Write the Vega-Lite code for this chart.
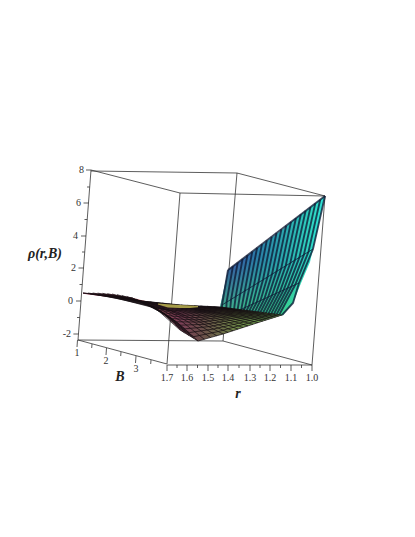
{"$schema":"https://vega.github.io/schema/vega-lite/v6.json","width":415,"height":537,"autosize":{"type":"fit","contains":"padding"},"padding":0,"background":"white","view":{"stroke":null},
"encoding":{"x":{"field":"x","type":"quantitative","scale":{"domain":[0,415],"nice":false,"zero":false},"axis":null},"y":{"field":"y","type":"quantitative","scale":{"domain":[537,0],"nice":false,"zero":false},"axis":null}},
"layer":[
{"data":{"values":[
{"x":91,"y":170,"x2":78,"y2":340},{"x":91,"y":171,"x2":237,"y2":173},{"x":91,"y":170,"x2":180,"y2":193},{"x":237,"y":173,"x2":325,"y2":196},{"x":180,"y":193,"x2":325,"y2":196},{"x":237,"y":173,"x2":223,"y2":341},{"x":180,"y":193,"x2":167,"y2":364},{"x":325,"y":196,"x2":312,"y2":365},{"x":78,"y":340,"x2":223,"y2":341},{"x":78,"y":340,"x2":167,"y2":364},{"x":223,"y":341,"x2":312,"y2":365},{"x":167,"y":365,"x2":312,"y2":365},
{"x":91,"y":170,"x2":86,"y2":170},{"x":88.5,"y":203,"x2":83.5,"y2":203},{"x":86,"y":236,"x2":81,"y2":236},{"x":83.5,"y":268,"x2":78.5,"y2":268},{"x":81,"y":301,"x2":76,"y2":301},{"x":78.4,"y":334,"x2":73.4,"y2":334},
{"x":89.7,"y":187,"x2":87,"y2":187},{"x":87.2,"y":219.5,"x2":84.5,"y2":219.5},{"x":84.7,"y":252,"x2":82,"y2":252},{"x":82.2,"y":284.5,"x2":79.5,"y2":284.5},{"x":79.7,"y":317.5,"x2":77,"y2":317.5},
{"x":77.5,"y":340,"x2":77,"y2":347},{"x":106.5,"y":348,"x2":106,"y2":355},{"x":136,"y":356,"x2":135.5,"y2":363},{"x":92,"y":344,"x2":91.7,"y2":348},{"x":121,"y":352,"x2":120.7,"y2":356},{"x":151,"y":360,"x2":150.7,"y2":364},
{"x":167,"y":365,"x2":167,"y2":371},{"x":187,"y":365,"x2":187,"y2":371},{"x":208,"y":365,"x2":208,"y2":371},{"x":228,"y":365,"x2":228,"y2":371},{"x":250,"y":365,"x2":250,"y2":371},{"x":270,"y":365,"x2":270,"y2":371},{"x":291,"y":365,"x2":291,"y2":371},{"x":312,"y":365,"x2":312,"y2":371},
{"x":177,"y":365,"x2":177,"y2":368},{"x":197.5,"y":365,"x2":197.5,"y2":368},{"x":218,"y":365,"x2":218,"y2":368},{"x":239,"y":365,"x2":239,"y2":368},{"x":260,"y":365,"x2":260,"y2":368},{"x":280.5,"y":365,"x2":280.5,"y2":368},{"x":301.5,"y":365,"x2":301.5,"y2":368}
]},"mark":{"type":"rule","color":"#2a2a2a","strokeWidth":0.9,"opacity":0.85},"encoding":{"x2":{"field":"x2"},"y2":{"field":"y2"}}},
{"data":{"values":[{"x":220,"y":307,"y2":322},{"x":228,"y":270,"y2":323},{"x":283,"y":229,"y2":315},{"x":293,"y":220.4,"y2":303},{"x":301,"y":214.3,"y2":283},{"x":310,"y":207.5,"y2":262},{"x":313,"y":205.2,"y2":249},{"x":317,"y":202,"y2":233},{"x":325,"y":196,"y2":196}]},
"mark":{"type":"area","orient":"vertical","color":{"gradient":"linear","x1":0,"y1":0,"x2":1,"y2":0.15,"stops":[{"offset":0,"color":"#2a2a80"},{"offset":0.22,"color":"#3550a8"},{"offset":0.42,"color":"#2a80a8"},{"offset":0.68,"color":"#2aaeb0"},{"offset":0.88,"color":"#2fd4c0"},{"offset":1,"color":"#30e8e0"}]}},"encoding":{"y2":{"field":"y2"}}},
{"data":{"values":[{"x":220,"y":307,"y2":322},{"x":228,"y":270,"y2":323},{"x":283,"y":229,"y2":315},{"x":293,"y":220.4,"y2":303},{"x":301,"y":214.3,"y2":283},{"x":310,"y":207.5,"y2":262},{"x":313,"y":205.2,"y2":249},{"x":317,"y":202,"y2":233},{"x":325,"y":196,"y2":196}]},
"mark":{"type":"area","orient":"vertical","color":{"gradient":"linear","x1":0.6,"y1":0,"x2":0.5,"y2":1,"stops":[{"offset":0,"color":"rgba(60,230,130,0)"},{"offset":0.5,"color":"rgba(60,230,130,0)"},{"offset":1,"color":"rgba(70,235,120,0.7)"}]}},"encoding":{"y2":{"field":"y2"}}},
{"data":{"values":[
{"curve":0,"seq":0,"x":228,"y":270},{"curve":0,"seq":1,"x":222,"y":305},{"curve":0,"seq":2,"x":222,"y":318},{"curve":0,"seq":3,"x":221,"y":322},
{"curve":1,"seq":0,"x":232.9,"y":266.3},{"curve":1,"seq":1,"x":226.6,"y":302.2},{"curve":1,"seq":2,"x":225.9,"y":316.3},{"curve":1,"seq":3,"x":224,"y":321.7},
{"curve":2,"seq":0,"x":237.7,"y":262.6},{"curve":2,"seq":1,"x":231.1,"y":299.4},{"curve":2,"seq":2,"x":229.7,"y":314.5},{"curve":2,"seq":3,"x":227,"y":321.3},
{"curve":3,"seq":0,"x":242.6,"y":258.9},{"curve":3,"seq":1,"x":235.7,"y":296.6},{"curve":3,"seq":2,"x":233.6,"y":312.8},{"curve":3,"seq":3,"x":230,"y":321},
{"curve":4,"seq":0,"x":247.4,"y":255.2},{"curve":4,"seq":1,"x":240.2,"y":293.8},{"curve":4,"seq":2,"x":237.4,"y":311},{"curve":4,"seq":3,"x":233,"y":320.6},
{"curve":5,"seq":0,"x":252.3,"y":251.5},{"curve":5,"seq":1,"x":244.8,"y":291},{"curve":5,"seq":2,"x":241.3,"y":309.3},{"curve":5,"seq":3,"x":236,"y":320.3},
{"curve":6,"seq":0,"x":257.1,"y":247.8},{"curve":6,"seq":1,"x":249.3,"y":288.2},{"curve":6,"seq":2,"x":245.1,"y":307.5},{"curve":6,"seq":3,"x":239,"y":319.9},
{"curve":7,"seq":0,"x":262,"y":244.1},{"curve":7,"seq":1,"x":253.9,"y":285.4},{"curve":7,"seq":2,"x":249,"y":305.8},{"curve":7,"seq":3,"x":242,"y":319.6},
{"curve":8,"seq":0,"x":266.8,"y":240.4},{"curve":8,"seq":1,"x":258.4,"y":282.6},{"curve":8,"seq":2,"x":252.8,"y":304},{"curve":8,"seq":3,"x":245,"y":319.2},
{"curve":9,"seq":0,"x":271.7,"y":236.7},{"curve":9,"seq":1,"x":263,"y":279.8},{"curve":9,"seq":2,"x":256.7,"y":302.3},{"curve":9,"seq":3,"x":248,"y":318.9},
{"curve":10,"seq":0,"x":276.5,"y":233},{"curve":10,"seq":1,"x":267.5,"y":277},{"curve":10,"seq":2,"x":260.5,"y":300.5},{"curve":10,"seq":3,"x":251.5,"y":318.5},
{"curve":11,"seq":0,"x":281.4,"y":229.3},{"curve":11,"seq":1,"x":272,"y":274.2},{"curve":11,"seq":2,"x":264.4,"y":298.8},{"curve":11,"seq":3,"x":254.6,"y":318.2},
{"curve":12,"seq":0,"x":286.2,"y":225.6},{"curve":12,"seq":1,"x":276.6,"y":271.4},{"curve":12,"seq":2,"x":268.2,"y":297},{"curve":12,"seq":3,"x":257.6,"y":317.8},
{"curve":13,"seq":0,"x":291,"y":221.9},{"curve":13,"seq":1,"x":281.2,"y":268.6},{"curve":13,"seq":2,"x":272,"y":295.3},{"curve":13,"seq":3,"x":260.6,"y":317.5},
{"curve":14,"seq":0,"x":295.9,"y":218.2},{"curve":14,"seq":1,"x":285.7,"y":265.8},{"curve":14,"seq":2,"x":275.9,"y":293.5},{"curve":14,"seq":3,"x":263.7,"y":317.1},
{"curve":15,"seq":0,"x":300.8,"y":214.5},{"curve":15,"seq":1,"x":290.3,"y":263},{"curve":15,"seq":2,"x":279.8,"y":291.8},{"curve":15,"seq":3,"x":266.8,"y":316.8},
{"curve":16,"seq":0,"x":305.6,"y":210.8},{"curve":16,"seq":1,"x":294.8,"y":260.2},{"curve":16,"seq":2,"x":283.6,"y":290},{"curve":16,"seq":3,"x":269.8,"y":316.4},
{"curve":17,"seq":0,"x":310.5,"y":207.1},{"curve":17,"seq":1,"x":299.4,"y":257.4},{"curve":17,"seq":2,"x":287.5,"y":288.3},{"curve":17,"seq":3,"x":272.9,"y":316},
{"curve":18,"seq":0,"x":315.3,"y":203.4},{"curve":18,"seq":1,"x":303.9,"y":254.6},{"curve":18,"seq":2,"x":291.3,"y":286.5},{"curve":18,"seq":3,"x":275.9,"y":315.7},
{"curve":19,"seq":0,"x":320.2,"y":199.7},{"curve":19,"seq":1,"x":308.5,"y":251.8},{"curve":19,"seq":2,"x":295.2,"y":284.8},{"curve":19,"seq":3,"x":279,"y":315.3},
{"curve":20,"seq":0,"x":325,"y":196},{"curve":20,"seq":1,"x":313,"y":249},{"curve":20,"seq":2,"x":299,"y":283},{"curve":20,"seq":3,"x":293,"y":303},{"curve":20,"seq":4,"x":282,"y":315},
{"curve":21,"seq":0,"x":228,"y":270},{"curve":21,"seq":1,"x":325,"y":196}
]},"mark":{"type":"line","color":"#0e1a34","strokeWidth":1.9,"opacity":0.78},"encoding":{"detail":{"field":"curve"},"order":{"field":"seq"}}},
{"data":{"values":[
{"curve":22,"seq":0,"x":222,"y":305},{"curve":22,"seq":1,"x":313,"y":249},
{"curve":23,"seq":0,"x":222,"y":318},{"curve":23,"seq":1,"x":299,"y":283}
]},"mark":{"type":"line","color":"#0e1a34","strokeWidth":1,"opacity":0.75},"encoding":{"detail":{"field":"curve"},"order":{"field":"seq"}}},
{"data":{"values":[{"x":83,"y":292.7,"y2":293.8},{"x":112,"y":294.3,"y2":297.4},{"x":131,"y":297.4,"y2":300.5},{"x":141,"y":300,"y2":302.5},{"x":153,"y":302.5,"y2":307},{"x":160,"y":303.5,"y2":311.9},{"x":170,"y":304.5,"y2":320},{"x":180,"y":305,"y2":330},{"x":198,"y":306,"y2":341},{"x":210,"y":306.5,"y2":337.6},{"x":223,"y":307.4,"y2":334},{"x":243,"y":309.9,"y2":327.5},{"x":263,"y":312.6,"y2":321},{"x":282,"y":315,"y2":315}]},
"mark":{"type":"area","orient":"vertical","color":{"gradient":"linear","x1":0,"y1":0,"x2":1,"y2":0,"stops":[{"offset":0,"color":"#a03a5c"},{"offset":0.3,"color":"#b05a5e"},{"offset":0.48,"color":"#7e3f58"},{"offset":0.6,"color":"#6a4f4a"},{"offset":0.78,"color":"#6e8a48"},{"offset":1,"color":"#6cae58"}]}},"encoding":{"y2":{"field":"y2"}}},
{"data":{"values":[
{"curve":0,"seq":0,"x":83,"y":293},{"curve":0,"seq":1,"x":112,"y":297},{"curve":0,"seq":2,"x":131,"y":300},{"curve":0,"seq":3,"x":181,"y":305},{"curve":0,"seq":4,"x":220,"y":307},
{"curve":1,"seq":0,"x":87.9,"y":293},{"curve":1,"seq":1,"x":116.3,"y":297.1},{"curve":1,"seq":2,"x":135.6,"y":300.4},{"curve":1,"seq":3,"x":185.1,"y":305.8},{"curve":1,"seq":4,"x":223.1,"y":307.4},
{"curve":2,"seq":0,"x":92.7,"y":293},{"curve":2,"seq":1,"x":120.6,"y":297.4},{"curve":2,"seq":2,"x":140.2,"y":301.1},{"curve":2,"seq":3,"x":189.2,"y":306.6},{"curve":2,"seq":4,"x":226.2,"y":307.8},
{"curve":3,"seq":0,"x":97.6,"y":293.1},{"curve":3,"seq":1,"x":124.9,"y":298},{"curve":3,"seq":2,"x":144.8,"y":302},{"curve":3,"seq":3,"x":193.3,"y":307.4},{"curve":3,"seq":4,"x":229.3,"y":308.2},
{"curve":4,"seq":0,"x":102.4,"y":293.3},{"curve":4,"seq":1,"x":129.2,"y":298.8},{"curve":4,"seq":2,"x":149.4,"y":303},{"curve":4,"seq":3,"x":197.4,"y":308.2},{"curve":4,"seq":4,"x":232.4,"y":308.6},
{"curve":5,"seq":0,"x":107.3,"y":293.6},{"curve":5,"seq":1,"x":133.5,"y":299.8},{"curve":5,"seq":2,"x":154,"y":304.3},{"curve":5,"seq":3,"x":201.5,"y":309},{"curve":5,"seq":4,"x":235.5,"y":309},
{"curve":6,"seq":0,"x":112.1,"y":294},{"curve":6,"seq":1,"x":137.8,"y":301},{"curve":6,"seq":2,"x":158.6,"y":305.6},{"curve":6,"seq":3,"x":205.6,"y":309.8},{"curve":6,"seq":4,"x":238.6,"y":309.4},
{"curve":7,"seq":0,"x":117,"y":294.6},{"curve":7,"seq":1,"x":142.1,"y":302.4},{"curve":7,"seq":2,"x":163.2,"y":307},{"curve":7,"seq":3,"x":209.7,"y":310.6},{"curve":7,"seq":4,"x":241.7,"y":309.8},
{"curve":8,"seq":0,"x":121.8,"y":295.4},{"curve":8,"seq":1,"x":146.4,"y":304},{"curve":8,"seq":2,"x":167.8,"y":308.6},{"curve":8,"seq":3,"x":213.8,"y":311.4},{"curve":8,"seq":4,"x":244.8,"y":310.2},
{"curve":9,"seq":0,"x":126.7,"y":296.4},{"curve":9,"seq":1,"x":150.7,"y":305.9},{"curve":9,"seq":2,"x":172.4,"y":310.3},{"curve":9,"seq":3,"x":217.9,"y":312.2},{"curve":9,"seq":4,"x":247.9,"y":310.6},
{"curve":10,"seq":0,"x":131.5,"y":297.6},{"curve":10,"seq":1,"x":155,"y":308},{"curve":10,"seq":2,"x":177,"y":312},{"curve":10,"seq":3,"x":222,"y":313},{"curve":10,"seq":4,"x":251,"y":311},
{"curve":11,"seq":0,"x":136.4,"y":299.2},{"curve":11,"seq":1,"x":159.3,"y":310.3},{"curve":11,"seq":2,"x":181.6,"y":313.9},{"curve":11,"seq":3,"x":226.1,"y":313.8},{"curve":11,"seq":4,"x":254.1,"y":311.4},
{"curve":12,"seq":0,"x":141.2,"y":301},{"curve":12,"seq":1,"x":163.6,"y":312.8},{"curve":12,"seq":2,"x":186.2,"y":315.8},{"curve":12,"seq":3,"x":230.2,"y":314.6},{"curve":12,"seq":4,"x":257.2,"y":311.8},
{"curve":13,"seq":0,"x":146.1,"y":303.2},{"curve":13,"seq":1,"x":167.9,"y":315.6},{"curve":13,"seq":2,"x":190.8,"y":317.8},{"curve":13,"seq":3,"x":234.3,"y":315.4},{"curve":13,"seq":4,"x":260.3,"y":312.2},
{"curve":14,"seq":0,"x":150.9,"y":305.7},{"curve":14,"seq":1,"x":172.2,"y":318.6},{"curve":14,"seq":2,"x":195.4,"y":319.9},{"curve":14,"seq":3,"x":238.4,"y":316.2},{"curve":14,"seq":4,"x":263.4,"y":312.6},
{"curve":15,"seq":0,"x":155.8,"y":308.6},{"curve":15,"seq":1,"x":176.5,"y":321.8},{"curve":15,"seq":2,"x":200,"y":322.1},{"curve":15,"seq":3,"x":242.5,"y":317},{"curve":15,"seq":4,"x":266.5,"y":313},
{"curve":16,"seq":0,"x":160.6,"y":311.9},{"curve":16,"seq":1,"x":180.8,"y":325.2},{"curve":16,"seq":2,"x":204.6,"y":324.3},{"curve":16,"seq":3,"x":246.6,"y":317.8},{"curve":16,"seq":4,"x":269.6,"y":313.4},
{"curve":17,"seq":0,"x":165.5,"y":315.7},{"curve":17,"seq":1,"x":185.1,"y":328.8},{"curve":17,"seq":2,"x":209.2,"y":326.6},{"curve":17,"seq":3,"x":250.7,"y":318.6},{"curve":17,"seq":4,"x":272.7,"y":313.8},
{"curve":18,"seq":0,"x":170.3,"y":320},{"curve":18,"seq":1,"x":189.4,"y":332.6},{"curve":18,"seq":2,"x":213.8,"y":329},{"curve":18,"seq":3,"x":254.8,"y":319.4},{"curve":18,"seq":4,"x":275.8,"y":314.2},
{"curve":19,"seq":0,"x":175.2,"y":324.7},{"curve":19,"seq":1,"x":193.7,"y":336.7},{"curve":19,"seq":2,"x":218.4,"y":331.5},{"curve":19,"seq":3,"x":258.9,"y":320.2},{"curve":19,"seq":4,"x":278.9,"y":314.6},
{"curve":20,"seq":0,"x":180,"y":330},{"curve":20,"seq":1,"x":198,"y":341},{"curve":20,"seq":2,"x":223,"y":334},{"curve":20,"seq":3,"x":263,"y":321},{"curve":20,"seq":4,"x":282,"y":315},
{"curve":30,"seq":0,"x":83,"y":293},{"curve":30,"seq":1,"x":131.5,"y":297.6},{"curve":30,"seq":2,"x":155.8,"y":308.6},{"curve":30,"seq":3,"x":180,"y":330},
{"curve":31,"seq":0,"x":90.2,"y":294},{"curve":31,"seq":1,"x":137.4,"y":300.2},{"curve":31,"seq":2,"x":161,"y":311.9},{"curve":31,"seq":3,"x":184.5,"y":332.8},
{"curve":32,"seq":0,"x":97.5,"y":295},{"curve":32,"seq":1,"x":143.3,"y":302.8},{"curve":32,"seq":2,"x":166.2,"y":315.2},{"curve":32,"seq":3,"x":189,"y":335.5},
{"curve":33,"seq":0,"x":104.8,"y":296},{"curve":33,"seq":1,"x":149.1,"y":305.4},{"curve":33,"seq":2,"x":171.3,"y":318.5},{"curve":33,"seq":3,"x":193.5,"y":338.2},
{"curve":34,"seq":0,"x":112,"y":297},{"curve":34,"seq":1,"x":155,"y":308},{"curve":34,"seq":2,"x":176.5,"y":321.8},{"curve":34,"seq":3,"x":198,"y":341},
{"curve":35,"seq":0,"x":116.8,"y":297.8},{"curve":35,"seq":1,"x":160.5,"y":309},{"curve":35,"seq":2,"x":182.4,"y":321.9},{"curve":35,"seq":3,"x":204.3,"y":339.3},
{"curve":36,"seq":0,"x":121.5,"y":298.5},{"curve":36,"seq":1,"x":166,"y":310},{"curve":36,"seq":2,"x":188.3,"y":322},{"curve":36,"seq":3,"x":210.5,"y":337.5},
{"curve":37,"seq":0,"x":126.3,"y":299.3},{"curve":37,"seq":1,"x":171.5,"y":311},{"curve":37,"seq":2,"x":194.1,"y":322},{"curve":37,"seq":3,"x":216.8,"y":335.8},
{"curve":38,"seq":0,"x":131,"y":300},{"curve":38,"seq":1,"x":177,"y":312},{"curve":38,"seq":2,"x":200,"y":322.1},{"curve":38,"seq":3,"x":223,"y":334},
{"curve":39,"seq":0,"x":137.3,"y":300.6},{"curve":39,"seq":1,"x":182.6,"y":312.1},{"curve":39,"seq":2,"x":228,"y":332.4},
{"curve":40,"seq":0,"x":143.5,"y":301.3},{"curve":40,"seq":1,"x":188.3,"y":312.3},{"curve":40,"seq":2,"x":233,"y":330.8},
{"curve":41,"seq":0,"x":149.8,"y":301.9},{"curve":41,"seq":1,"x":193.9,"y":312.4},{"curve":41,"seq":2,"x":238,"y":329.1},
{"curve":42,"seq":0,"x":156,"y":302.5},{"curve":42,"seq":1,"x":199.5,"y":312.5},{"curve":42,"seq":2,"x":243,"y":327.5},
{"curve":43,"seq":0,"x":162.3,"y":303.1},{"curve":43,"seq":1,"x":205.1,"y":312.6},{"curve":43,"seq":2,"x":248,"y":325.9},
{"curve":44,"seq":0,"x":168.5,"y":303.8},{"curve":44,"seq":1,"x":210.8,"y":312.8},{"curve":44,"seq":2,"x":253,"y":324.3},
{"curve":45,"seq":0,"x":174.8,"y":304.4},{"curve":45,"seq":1,"x":216.4,"y":312.9},{"curve":45,"seq":2,"x":258,"y":322.6},
{"curve":46,"seq":0,"x":181,"y":305},{"curve":46,"seq":1,"x":222,"y":313},{"curve":46,"seq":2,"x":263,"y":321},
{"curve":47,"seq":0,"x":187.5,"y":305.3},{"curve":47,"seq":1,"x":266.2,"y":320},
{"curve":48,"seq":0,"x":194,"y":305.7},{"curve":48,"seq":1,"x":269.3,"y":319},
{"curve":49,"seq":0,"x":200.5,"y":306},{"curve":49,"seq":1,"x":272.5,"y":318},
{"curve":50,"seq":0,"x":207,"y":306.3},{"curve":50,"seq":1,"x":275.7,"y":317},
{"curve":51,"seq":0,"x":213.5,"y":306.7},{"curve":51,"seq":1,"x":278.8,"y":316},
{"curve":52,"seq":0,"x":220,"y":307},{"curve":52,"seq":1,"x":282,"y":315}
]},"mark":{"type":"line","color":"#140c10","strokeWidth":1,"opacity":0.72},"encoding":{"detail":{"field":"curve"},"order":{"field":"seq"}}},
{"data":{"values":[{"x":158,"y":303.6,"y2":304.5},{"x":168,"y":304.2,"y2":307.5},{"x":180,"y":305,"y2":308},{"x":190,"y":305.6,"y2":308},{"x":198,"y":306,"y2":307.2}]},"mark":{"type":"area","orient":"vertical","color":"#d6cc5c","opacity":0.75},"encoding":{"y2":{"field":"y2"}}},
{"data":{"values":[{"x":84,"y":170,"label":"8"},{"x":81,"y":203,"label":"6"},{"x":78,"y":236,"label":"4"},{"x":76,"y":268,"label":"2"},{"x":73,"y":301,"label":"0"},{"x":71,"y":334,"label":"-2"}]},"mark":{"type":"text","align":"right","baseline":"middle","font":"Liberation Serif","fontSize":10,"color":"#333"},"encoding":{"text":{"field":"label"}}},
{"data":{"values":[{"x":77,"y":353,"label":"1"},{"x":106,"y":361,"label":"2"},{"x":136,"y":369,"label":"3"},{"x":167,"y":378,"label":"1.7"},{"x":187,"y":378,"label":"1.6"},{"x":208,"y":378,"label":"1.5"},{"x":228,"y":378,"label":"1.4"},{"x":250,"y":378,"label":"1.3"},{"x":270,"y":378,"label":"1.2"},{"x":291,"y":378,"label":"1.1"},{"x":312,"y":378,"label":"1.0"}]},"mark":{"type":"text","align":"center","baseline":"middle","font":"Liberation Serif","fontSize":10,"color":"#333"},"encoding":{"text":{"field":"label"}}},
{"data":{"values":[{"x":45,"y":254,"label":"ρ(r,B)"},{"x":120,"y":377,"label":"B"},{"x":238,"y":394,"label":"r"}]},"mark":{"type":"text","align":"center","baseline":"middle","font":"Liberation Serif","fontSize":14,"fontWeight":"bold","fontStyle":"italic","color":"#222"},"encoding":{"text":{"field":"label"}}}
]}
